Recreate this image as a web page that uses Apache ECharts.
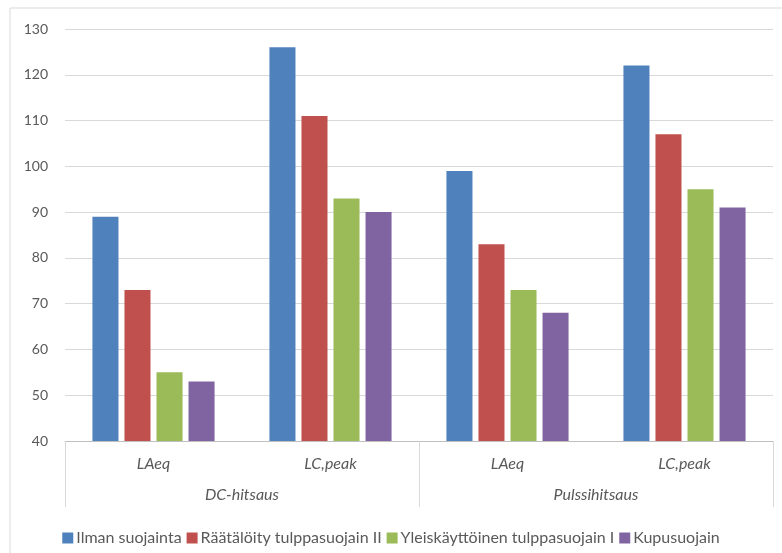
<!DOCTYPE html>
<html>
<head>
<meta charset="utf-8">
<script src="https://cdn.jsdelivr.net/npm/echarts@6/dist/echarts.min.js"></script>
<style>
  html, body { margin: 0; padding: 0; background: #fff; }
  #chart { width: 782px; height: 553px; }
</style>
</head>
<body>
<div id="chart"></div>
<script>
// Measures (inner axis level) and welding methods (outer axis level)
const measures = ['LAeq', 'LC,peak', 'LAeq', 'LC,peak'];
const methods = ['DC-hitsaus', 'Pulssihitsaus'];

// Sound levels per hearing-protection option
const seriesNames = [
  'Ilman suojainta',
  'Räätälöity tulppasuojain II',
  'Yleiskäyttöinen tulppasuojain I',
  'Kupusuojain'
];
const ilmanSuojainta = [89, 126, 99, 122];
const raatalointyTulppa = [73, 111, 83, 107];
const yleisTulppa = [55, 93, 73, 95];
const kupusuojain = [53, 90, 68, 91];

const yTicks = { min: 40, max: 130, interval: 10 };

const colors = ['#4f81bd', '#c0504d', '#9bbb59', '#8064a2'];
const textColor = '#595959';
const font = 'Lato, "Open Sans", sans-serif';

const seriesValues = [ilmanSuojainta, raatalointyTulppa, yleisTulppa, kupusuojain];

const chart = echarts.init(document.getElementById('chart'));
chart.setOption({
  animation: false,
  backgroundColor: '#fff',
  color: colors,
  textStyle: { fontFamily: font },
  graphic: [{
    type: 'rect',
    shape: { x: 10, y: 8, width: 900, height: 700 },
    style: { fill: 'none', stroke: '#d9d9d9', lineWidth: 1 },
    silent: true,
    z: -1
  }],
  grid: { left: 65, right: 9, top: 29, bottom: 112, containLabel: false },
  legend: {
    top: 525,
    left: 'center',
    itemWidth: 11,
    itemHeight: 11,
    itemGap: 5,
    icon: 'rect',
    textStyle: { color: textColor, fontSize: 16, fontFamily: font, padding: [0, 0, 0, -2] },
    data: seriesNames
  },
  xAxis: [{
    type: 'category',
    data: measures,
    position: 'bottom',
    axisLine: { show: true, lineStyle: { color: '#bfbfbf', width: 1 } },
    axisTick: { show: false },
    axisLabel: {
      color: textColor, fontSize: 16, fontStyle: 'italic', fontFamily: font, margin: 15
    }
  }, {
    type: 'category',
    data: methods,
    position: 'bottom',
    axisLine: { show: false },
    axisTick: { show: true, length: 66, lineStyle: { color: '#d9d9d9', width: 1 } },
    axisLabel: {
      color: textColor, fontSize: 16, fontStyle: 'italic', fontFamily: font, margin: 46
    }
  }],
  yAxis: {
    type: 'value',
    min: yTicks.min,
    max: yTicks.max,
    interval: yTicks.interval,
    axisLine: { show: false },
    axisTick: { show: false },
    axisLabel: { color: textColor, fontSize: 14, fontFamily: font, margin: 17 },
    splitLine: { lineStyle: { color: '#d9d9d9', width: 1 } }
  },
  series: seriesNames.map((name, i) => ({
    name: name,
    type: 'bar',
    xAxisIndex: 0,
    data: seriesValues[i],
    barGap: '23%',
    barCategoryGap: '31%',
    itemStyle: { color: colors[i] }
  }))
});
</script>
</body>
</html>
